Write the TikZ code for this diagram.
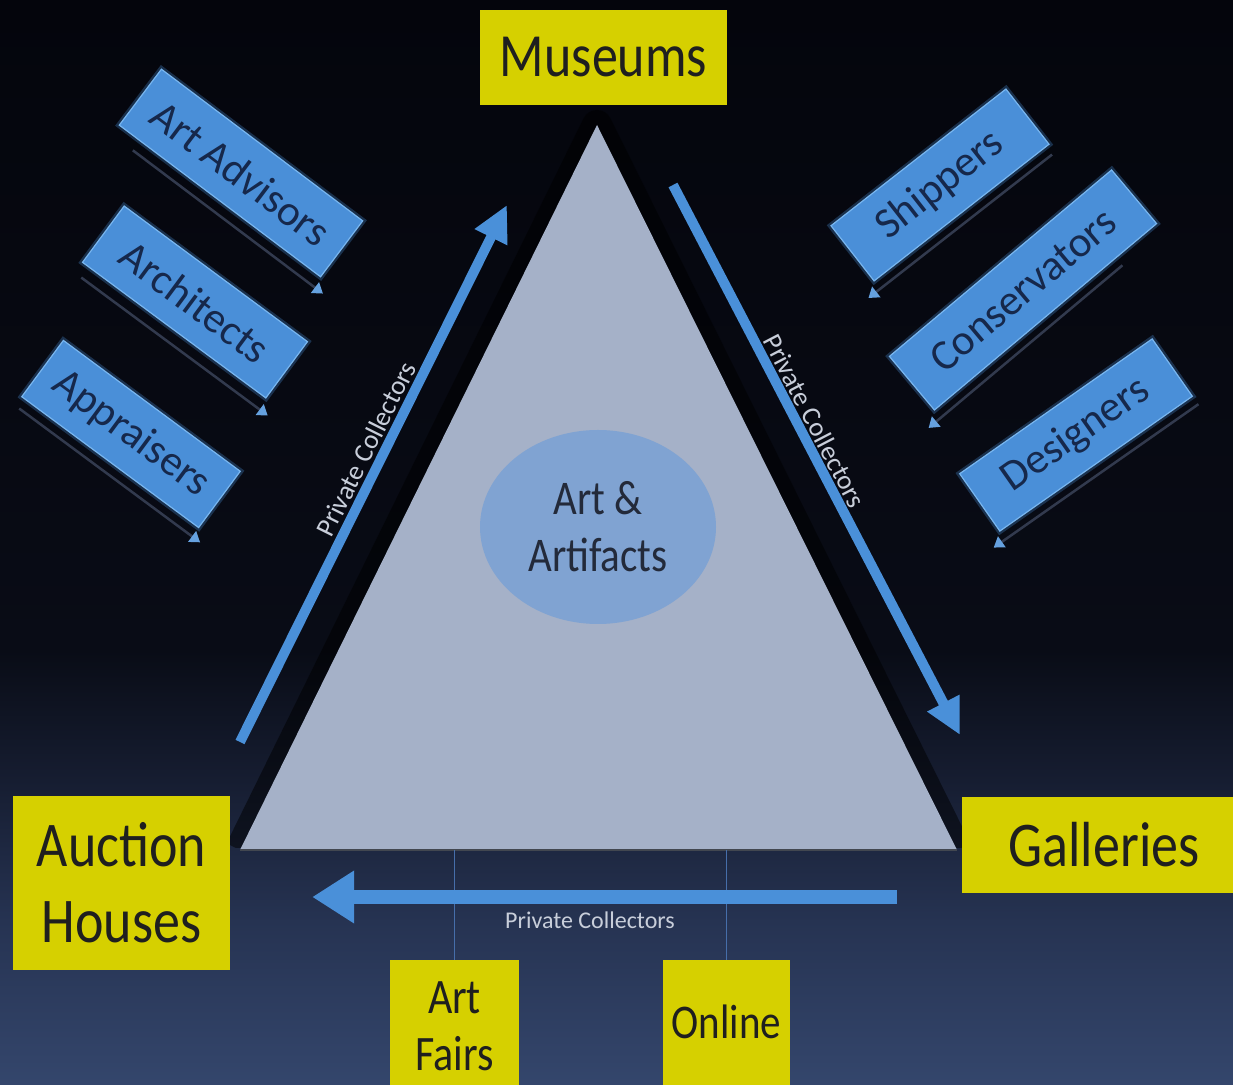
\documentclass[tikz,border=0pt]{standalone}
\usepackage{fontspec}
\setmainfont{Carlito}
\usetikzlibrary{arrows.meta,calc,shapes.geometric}
\definecolor{ylw}{RGB}{214,208,0}
\definecolor{bboxc}{RGB}{74,143,216}
\definecolor{bhalo}{RGB}{120,182,240}
\definecolor{btext}{RGB}{22,40,75}
\definecolor{arr}{RGB}{74,144,217}
\definecolor{tri}{RGB}{165,177,200}
\definecolor{ell}{RGB}{128,163,210}
\definecolor{etext}{RGB}{35,42,58}
\definecolor{lbl}{RGB}{200,206,218}
\definecolor{thinl}{RGB}{70,110,170}
\definecolor{shadl}{RGB}{50,58,78}
\definecolor{bgA}{RGB}{52,70,108}
\definecolor{bgB}{RGB}{38,51,82}
\definecolor{bgC}{RGB}{22,29,49}
\definecolor{bgD}{RGB}{9,12,22}
\definecolor{bgE}{RGB}{4,5,12}
\pgfdeclareverticalshading{bgshade}{100bp}{color(0bp)=(bgA); color(25bp)=(bgA); color(32.5bp)=(bgB); color(39bp)=(bgC); color(45bp)=(bgD); color(75bp)=(bgE); color(100bp)=(bgE)}
\newcommand{\ys}[1]{\scalebox{1}[1.18]{#1}}
\begin{document}
\begin{tikzpicture}[x=1pt,y=1pt,
  ybox/.style={fill=ylw, inner sep=0pt, text=black!88},
  bluebox/.style={fill=bboxc, draw=bhalo, line width=1.2pt,
    preaction={draw=arr, line width=6pt, opacity=0.3},
    minimum height=70pt, inner sep=0pt, text=btext, transform shape,
    font=\fontsize{43}{45}\selectfont},
  shadowline/.style={draw=shadl, line width=2.5pt, -{Triangle[width=13pt,length=10pt,color=arr!85!white]}},
  bigarrow/.style={draw=arr, line width=10pt, -{Triangle[width=34pt,length=36pt]}},
  pclabel/.style={text=lbl, inner sep=0pt, font=\fontsize{27}{29}\selectfont}]
\useasboundingbox (0,0) rectangle (1233,1084);
\clip (0,0) rectangle (1233,1084);
\shade[shading=bgshade] (0,0) rectangle (1233,1084);

% triangle
\coordinate (apex) at (597,959);
\coordinate (bl) at (240,234);
\coordinate (br) at (957,234);
\begin{scope}
  \clip (0,236) rectangle (1233,1084);
  \draw[black, opacity=0.5, line width=30pt, line join=round] (bl) -- (apex) -- (br);
\end{scope}
\fill[tri] (bl) -- (apex) -- (br) -- cycle;
\draw[black!60!tri, line width=1.5pt] (bl) -- (br);

\node[ellipse, fill=ell, minimum width=236pt, minimum height=194pt, inner sep=0pt,
  align=center, text=etext, font=\fontsize{41}{57}\selectfont] (art) at (598,557) {\ys{Art \&}\\\ys{Artifacts}};

% yellow boxes
\node[ybox, minimum width=247pt, minimum height=95pt, font=\fontsize{52}{60}\selectfont] (mus) at (603.5,1026.5) {\ys{Museums}};
\node[ybox, minimum width=217pt, minimum height=174pt, align=center, font=\fontsize{54}{76}\selectfont] (auc) at (121.5,201) {\ys{Auction}\\\ys{Houses}};
\node[ybox, minimum width=284pt, minimum height=96pt, font=\fontsize{54}{60}\selectfont] (gal) at (1104,239) {\ys{Galleries}};
\node[ybox, minimum width=129pt, minimum height=140pt, align=center, font=\fontsize{42}{57}\selectfont] (af) at (454.5,54) {\raisebox{8pt}{\ys{Art}}\\\raisebox{8pt}{\ys{Fairs}}};
\node[ybox, minimum width=127pt, minimum height=140pt, font=\fontsize{41}{50}\selectfont] (onl) at (726.5,54) {\raisebox{16pt}{\ys{Online}}};

% thin vertical lines
\draw[thinl, line width=1.5pt] (af.north) -- (af.north |- bl);
\draw[thinl, line width=1.5pt] (onl.north) -- (onl.north |- bl);

% big arrows
\coordinate (la1) at (240,342);
\coordinate (la2) at (507,879);
\coordinate (ra1) at (673,899);
\coordinate (ra2) at (960,349);
\draw[bigarrow] (la1) -- (la2);
\draw[bigarrow] (ra1) -- (ra2);
\draw[draw=arr, line width=14pt, -{Triangle[width=50pt,length=42pt]}] ($(gal.west)+(-65,-52)$) -- ($(auc.east)+(82,-14)$);

\node[pclabel, rotate=63.5] (pc1) at (366,635) {Private Collectors};
\node[pclabel, rotate=-62.5] (pc2) at (815,663) {Private Collectors};
\node[pclabel, font=\fontsize{24}{26}\selectfont] (pc3) at (590,164) {Private Collectors};

% left blue boxes
\begin{scope}[shift={(241,911)}, rotate=-37]
  \node[bluebox, minimum width=252pt] (aa) at (0,0) {Art Advisors};
  \draw[shadowline] (-100,-47) -- (138,-47);
\end{scope}
\begin{scope}[shift={(195,782)}, rotate=-36.5]
  \node[bluebox, minimum width=228pt] (arc) at (0,0) {Architects};
  \draw[shadowline] (-106,-48) -- (126,-48);
\end{scope}
\begin{scope}[shift={(131,650)}, rotate=-36.5]
  \node[bluebox, minimum width=220pt] (app) at (0,0) {Appraisers};
  \draw[shadowline] (-105,-46) -- (120,-46);
\end{scope}

% right blue boxes
\begin{scope}[shift={(940,899)}, rotate=38]
  \node[bluebox, minimum width=222pt] (shi) at (0,0) {Shippers};
  \draw[shadowline] (107,-45) -- (-126,-45);
\end{scope}
\begin{scope}[shift={(1023,794)}, rotate=40]
  \node[bluebox, minimum width=290pt] (con) at (0,0) {Conservators};
  \draw[shadowline] (92,-45) -- (-161,-45);
\end{scope}
\begin{scope}[shift={(1076,649)}, rotate=35]
  \node[bluebox, minimum width=235pt] (des) at (0,0) {Designers};
  \draw[shadowline] (118,-45) -- (-132,-45);
\end{scope}
\end{tikzpicture}
\end{document}
